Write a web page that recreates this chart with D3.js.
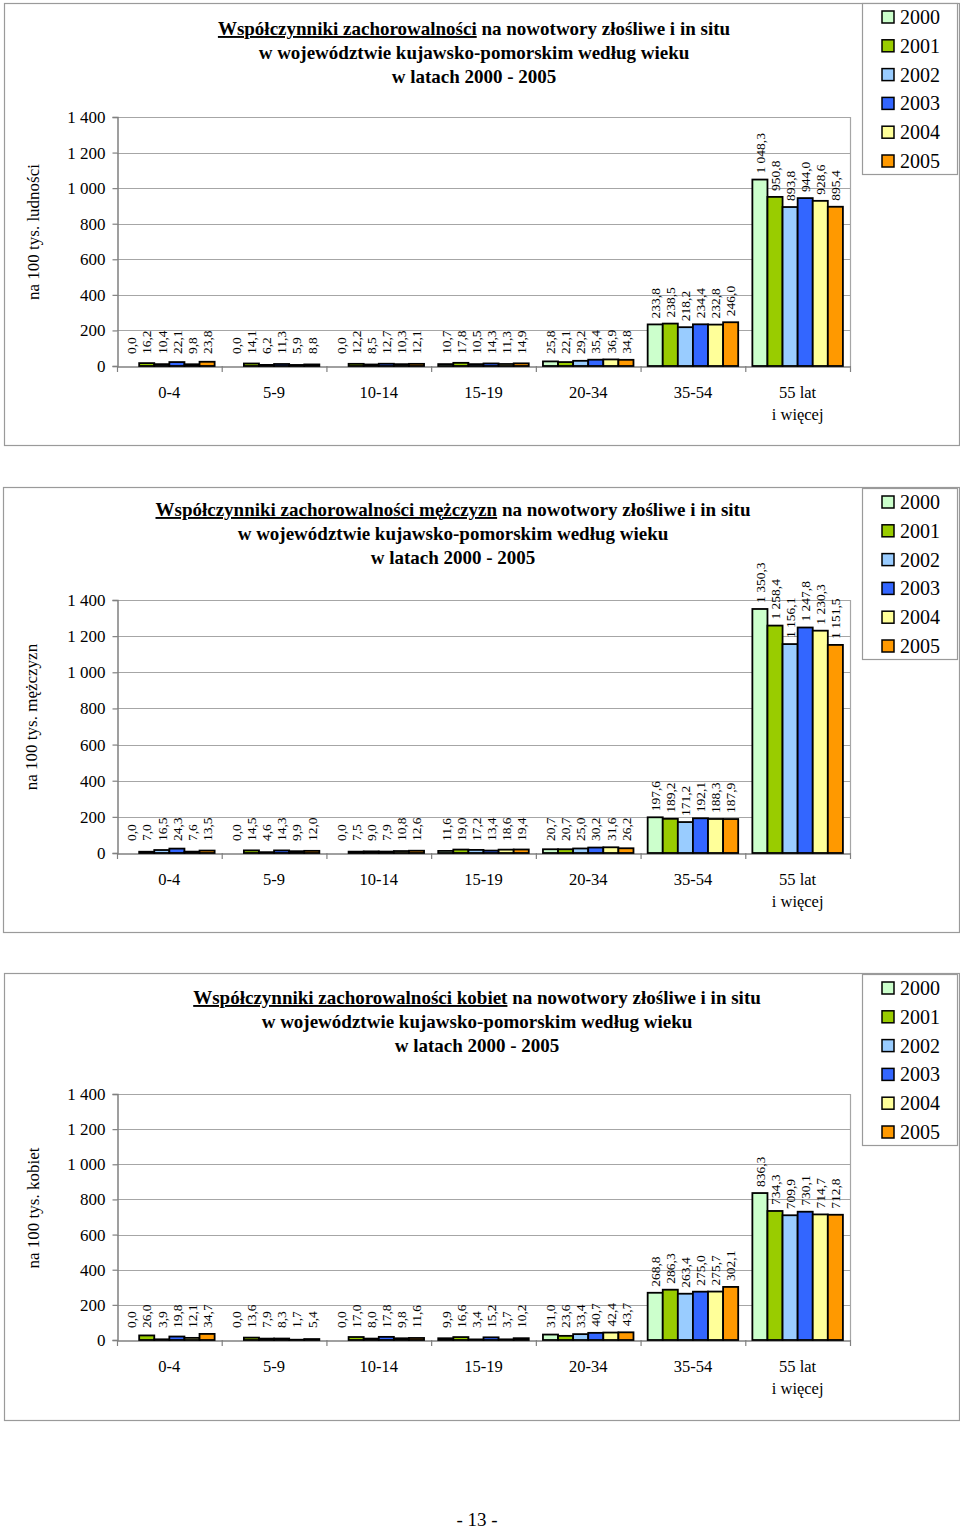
<!DOCTYPE html>
<html><head><meta charset="utf-8">
<script src="https://cdn.jsdelivr.net/npm/d3@7"></script>
<style>
html,body{margin:0;padding:0;background:#fff;}
svg{display:block;}
svg text{font-family:"Liberation Serif","Times New Roman",serif;}
</style></head>
<body>
<svg id="c" width="960" height="1531"></svg>
<script>
const categories = ["0-4", "5-9", "10-14", "15-19", "20-34", "35-54", "55 lat|i więcej"];
const years = ["2000", "2001", "2002", "2003", "2004", "2005"];
const yearColors = ["#CCFFCC", "#99CC00", "#99CCFF", "#3366FF", "#FFFF99", "#FF9900"];
const yTicks = [0, 200, 400, 600, 800, 1000, 1200, 1400];

// values[category][year]
const totalValues = [
  [0.0, 16.2, 10.4, 22.1, 9.8, 23.8],
  [0.0, 14.1, 6.2, 11.3, 5.9, 8.8],
  [0.0, 12.2, 8.5, 12.7, 10.3, 12.1],
  [10.7, 17.8, 10.5, 14.3, 11.3, 14.9],
  [25.8, 22.1, 29.2, 35.4, 36.9, 34.8],
  [233.8, 238.5, 218.2, 234.4, 232.8, 246.0],
  [1048.3, 950.8, 893.8, 944.0, 928.6, 895.4]
];
const menValues = [
  [0.0, 7.0, 16.5, 24.3, 7.6, 13.5],
  [0.0, 14.5, 4.6, 14.3, 9.9, 12.0],
  [0.0, 7.5, 9.0, 7.9, 10.8, 12.6],
  [11.6, 19.0, 17.2, 13.4, 18.6, 19.4],
  [20.7, 20.7, 25.0, 30.2, 31.6, 26.2],
  [197.6, 189.2, 171.2, 192.1, 188.3, 187.9],
  [1350.3, 1258.4, 1156.1, 1247.8, 1230.3, 1151.5]
];
const womenValues = [
  [0.0, 26.0, 3.9, 19.8, 12.1, 34.7],
  [0.0, 13.6, 7.9, 8.3, 1.7, 5.4],
  [0.0, 17.0, 8.0, 17.8, 9.8, 11.6],
  [9.9, 16.6, 3.4, 15.2, 3.7, 10.2],
  [31.0, 23.6, 33.4, 40.7, 42.4, 43.7],
  [268.8, 286.3, 263.4, 275.0, 275.7, 302.1],
  [836.3, 734.3, 709.9, 730.1, 714.7, 712.8]
];

const titleLine2 = "w województwie kujawsko-pomorskim według wieku";
const titleLine3 = "w latach 2000 - 2005";

const charts = [
  {values: totalValues, under: "Współczynniki zachorowalności", rest: " na nowotwory złośliwe i in situ",
   yTitle: "na 100 tys. ludności", frame: [4, 3, 959, 445], top: 117, bottom: 366, titleX: 474, titleY: 29,
   yTitleX: 33, yTitleY: 232, legendY: 3},
  {values: menValues, under: "Współczynniki zachorowalności mężczyzn", rest: " na nowotwory złośliwe i in situ",
   yTitle: "na 100 tys. mężczyzn", frame: [3, 487, 959, 932], top: 600, bottom: 853, titleX: 453, titleY: 510,
   yTitleX: 31, yTitleY: 717, legendY: 488},
  {values: womenValues, under: "Współczynniki zachorowalności kobiet", rest: " na nowotwory złośliwe i in situ",
   yTitle: "na 100 tys. kobiet", frame: [4, 973, 959, 1420], top: 1094, bottom: 1340, titleX: 477, titleY: 998,
   yTitleX: 33, yTitleY: 1208, legendY: 974}
];

const SERIF = "Liberation Serif, Times New Roman, serif";
const svg = d3.select("#c");
const fmt = v => d3.format(",.1f")(v).replace(/,/g, " ").replace(".", ",");
const color = d3.scaleOrdinal(years, yearColors);

charts.forEach(ch => {
  const g = svg.append("g");
  const [fx0, fy0, fx1, fy1] = ch.frame;
  g.append("rect").attr("x", fx0 + 0.5).attr("y", fy0 + 0.5)
    .attr("width", fx1 - fx0).attr("height", fy1 - fy0)
    .attr("fill", "#fff").attr("stroke", "#9a9a9a").attr("stroke-width", 1.2);

  const x = d3.scaleBand().domain(categories).range([117, 850]).paddingInner(0).paddingOuter(0);
  const xi = d3.scaleBand().domain(years).range([0, x.bandwidth()]).paddingInner(0).paddingOuter(0.47);
  const y = d3.scaleLinear().domain([0, 1400]).range([ch.bottom, ch.top]);

  // gridlines
  g.append("g").selectAll("line").data(yTicks.filter(t => t > 0)).join("line")
    .attr("x1", 117).attr("x2", 850)
    .attr("y1", d => Math.round(y(d)) + 0.5).attr("y2", d => Math.round(y(d)) + 0.5)
    .attr("stroke", "#a6a6a6").attr("stroke-width", 1.2);
  g.append("line").attr("x1", 850.5).attr("x2", 850.5).attr("y1", y(1400)).attr("y2", y(0))
    .attr("stroke", "#a6a6a6").attr("stroke-width", 1.2);

  // y axis
  const ya = g.append("g").attr("transform", "translate(117.5,0)")
    .call(d3.axisLeft(y).tickValues(yTicks).tickSize(5).tickPadding(7)
      .tickFormat(d => fmt(d).replace(",0", "")));
  ya.attr("font-family", SERIF);
  ya.select(".domain").attr("stroke", "#808080").attr("stroke-width", 1.5);
  ya.selectAll(".tick line").attr("stroke", "#808080").attr("stroke-width", 1.2);
  ya.selectAll(".tick text").attr("font-size", 17).attr("font-family", SERIF).attr("fill", "#000");

  // x axis
  const xa = g.append("g").attr("transform", `translate(0,${ch.bottom + 0.5})`)
    .call(d3.axisBottom(x).tickSize(0).tickFormat(""));
  xa.select(".domain").attr("stroke", "#808080").attr("stroke-width", 1.5);
  g.append("g").selectAll("line").data(d3.range(categories.length + 1)).join("line")
    .attr("x1", i => 117.5 + i * x.step()).attr("x2", i => 117.5 + i * x.step())
    .attr("y1", ch.bottom).attr("y2", ch.bottom + 6)
    .attr("stroke", "#808080").attr("stroke-width", 1.2);

  // category labels
  const cl = g.append("g").selectAll("text").data(categories).join("text")
    .attr("x", d => x(d) + x.bandwidth() / 2)
    .attr("y", ch.bottom + 32)
    .attr("text-anchor", "middle").attr("font-size", 16.5).attr("font-family", SERIF).attr("fill", "#000");
  cl.each(function(d) {
    const parts = d.split("|");
    d3.select(this).selectAll("tspan").data(parts).join("tspan")
      .attr("x", x(d) + x.bandwidth() / 2).attr("dy", (p, i) => i === 0 ? 0 : 22).text(p => p);
  });

  // bars
  const cats = g.append("g").selectAll("g").data(ch.values.map((v, i) => ({cat: categories[i], v})))
    .join("g").attr("transform", d => `translate(${x(d.cat)},0)`);
  cats.selectAll("rect").data(d => d.v.map((val, j) => ({year: years[j], val}))).join("rect")
    .attr("x", d => xi(d.year)).attr("width", xi.bandwidth())
    .attr("y", d => y(d.val)).attr("height", d => y(0) - y(d.val))
    .attr("fill", d => color(d.year)).attr("stroke", "#000").attr("stroke-width", 1.8);
  cats.selectAll("text").data(d => d.v.map((val, j) => ({year: years[j], val}))).join("text")
    .attr("transform", d => {
      const cx = xi(d.year) + xi.bandwidth() / 2;
      const ty = Math.min(y(d.val) - 6, y(0) - 12);
      return `translate(${cx},${ty}) rotate(-90)`;
    })
    .attr("dy", "0.35em").attr("font-size", 13.5).attr("font-family", SERIF).attr("fill", "#000")
    .text(d => fmt(d.val));

  // title
  const t = g.append("text").attr("x", ch.titleX).attr("y", ch.titleY + 6)
    .attr("text-anchor", "middle").attr("font-size", 19).attr("font-weight", "bold")
    .attr("font-family", SERIF).attr("fill", "#000");
  t.append("tspan").attr("text-decoration", "underline").text(ch.under);
  t.append("tspan").text(ch.rest);
  g.append("text").attr("x", ch.titleX).attr("y", ch.titleY + 30).attr("text-anchor", "middle")
    .attr("font-size", 19).attr("font-weight", "bold").attr("font-family", SERIF).text(titleLine2);
  g.append("text").attr("x", ch.titleX).attr("y", ch.titleY + 54).attr("text-anchor", "middle")
    .attr("font-size", 19).attr("font-weight", "bold").attr("font-family", SERIF).text(titleLine3);

  // y title
  g.append("text").attr("transform", `translate(${ch.yTitleX},${ch.yTitleY}) rotate(-90)`)
    .attr("text-anchor", "middle").attr("dy", "0.35em").attr("font-size", 17)
    .attr("font-family", SERIF).text(ch.yTitle);

  // legend
  const lg = g.append("g").attr("transform", `translate(862,${ch.legendY})`);
  lg.append("rect").attr("x", 0.5).attr("y", 0.5).attr("width", 95).attr("height", 171)
    .attr("fill", "#fff").attr("stroke", "#9a9a9a").attr("stroke-width", 1.2);
  const li = lg.selectAll("g.li").data(years).join("g").attr("class", "li")
    .attr("transform", (d, i) => `translate(0,${14 + i * 28.8})`);
  li.append("rect").attr("x", 20).attr("y", -6).attr("width", 12).attr("height", 12)
    .attr("fill", d => color(d)).attr("stroke", "#000").attr("stroke-width", 1.5);
  li.append("text").attr("x", 38).attr("dy", "0.35em").attr("font-size", 20)
    .attr("font-family", SERIF).text(d => d);
});

svg.append("text").attr("x", 477).attr("y", 1526).attr("text-anchor", "middle")
  .attr("font-size", 19).attr("font-family", SERIF).text("- 13 -");
</script>
</body></html>
